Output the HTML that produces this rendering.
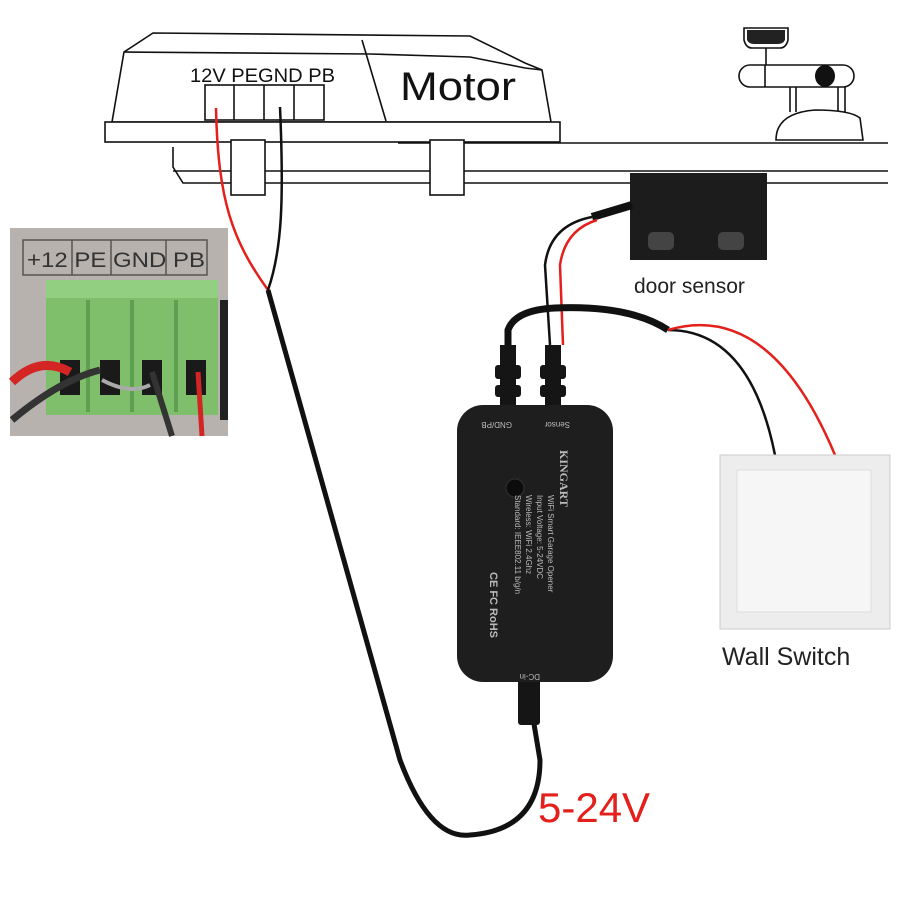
<!DOCTYPE html>
<html><head><style>body{margin:0;background:#fff}svg{display:block}</style></head>
<body>
<svg width="900" height="900" viewBox="0 0 900 900" xmlns="http://www.w3.org/2000/svg" font-family="Liberation Sans, sans-serif">
<rect width="900" height="900" fill="#fff"/>
<!-- motor housing -->
<g fill="none" stroke="#111" stroke-width="1.6">
<path d="M124 52 L153 33 L470 36 L525 63 L542 70 L551 122 L112 122 Z" fill="#fff"/>
<path d="M124 52 L370 54 L470 57 L525 68 L542 70"/>
<path d="M362 40 L386 121"/>
<rect x="105" y="122" width="455" height="20" fill="#fff"/>
<path d="M398 143 L888 143"/>
<path d="M173 147 L173 167 L183 183 L888 183"/>
<path d="M173 171 L888 171"/>
<rect x="231" y="140" width="34" height="55" fill="#fff"/>
<rect x="430" y="140" width="34" height="55" fill="#fff"/>
<rect x="205" y="85" width="119" height="35" fill="#fff"/>
<path d="M234 85V120M264 85V120M294 85V120"/>
<!-- right figure -->
<path d="M744 28H788V40Q786 48 780 48H752Q746 48 744 40Z" fill="#fff"/>
<path d="M766 48V65"/>
<rect x="739" y="65" width="115" height="22" rx="11" fill="#fff"/>
<path d="M765 65V87M790 87V112M796 87V112M838 87V112M845 87V112"/>
<path d="M776 140Q776 113 815 110Q850 110 860 118L863 140 Z" fill="#fff"/>
</g>
<path d="M747 30H785V40Q783 44 778 44H754Q749 44 747 40Z" fill="#222"/>
<ellipse cx="825" cy="76" rx="10" ry="11" fill="#111"/>
<text x="190" y="82" font-size="19" fill="#111" textLength="145" lengthAdjust="spacingAndGlyphs">12V PEGND PB</text>
<text x="400" y="100" font-size="40" fill="#111" textLength="116" lengthAdjust="spacingAndGlyphs">Motor</text>
<!-- wires from motor -->
<path d="M216 108 C218 200 232 240 268 290" stroke="#e3201b" stroke-width="2.5" fill="none"/>
<path d="M280 107 C284 200 282 250 268 290" stroke="#111" stroke-width="2.5" fill="none"/>
<path d="M268 290 L400 760 Q430 840 470 835 Q540 830 540 760 L530 700" stroke="#111" stroke-width="5" fill="none"/>
<!-- photo inset -->
<rect x="10" y="228" width="218" height="208" fill="#b7b2ae"/>
<rect x="23" y="240" width="184" height="35" fill="none" stroke="#555" stroke-width="1.5"/>
<path d="M72 240V275M111 240V275M166 240V275" stroke="#555" stroke-width="1.5"/>
<text x="27" y="267" font-size="21" fill="#333" textLength="178" lengthAdjust="spacingAndGlyphs">+12  PE  GND  PB</text>
<rect x="46" y="280" width="172" height="135" fill="#7fbf6c"/>
<rect x="46" y="280" width="172" height="18" fill="#93cf80"/>
<g fill="#5f9f52"><rect x="86" y="300" width="4" height="112"/><rect x="130" y="300" width="4" height="112"/><rect x="174" y="300" width="4" height="112"/></g>
<g fill="#1a1a1a"><rect x="60" y="360" width="20" height="35"/><rect x="100" y="360" width="20" height="35"/><rect x="142" y="360" width="20" height="35"/><rect x="186" y="360" width="20" height="35"/></g>
<path d="M12 382 Q40 355 70 372" stroke="#d42525" stroke-width="9" fill="none"/>
<path d="M12 420 Q60 380 100 370" stroke="#333" stroke-width="7" fill="none"/>
<path d="M152 372 L172 436" stroke="#333" stroke-width="6" fill="none"/>
<path d="M198 372 L202 436" stroke="#d42525" stroke-width="5" fill="none"/>
<path d="M102 380 Q130 395 150 385" stroke="#aaa" stroke-width="4" fill="none"/>
<rect x="220" y="300" width="8" height="120" fill="#222"/>
<!-- door sensor -->
<rect x="630" y="173" width="137" height="87" fill="#1c1c1c"/>
<rect x="648" y="232" width="26" height="18" rx="5" fill="#444"/>
<rect x="718" y="232" width="26" height="18" rx="5" fill="#444"/>
<path d="M632 205 L592 217" stroke="#111" stroke-width="8"/>
<path d="M592 217 Q550 225 545 265 L550 345" stroke="#111" stroke-width="2.5" fill="none"/>
<path d="M597 220 Q565 230 560 265 L563 345" stroke="#e3201b" stroke-width="2.5" fill="none"/>
<text x="634" y="293" font-size="21" fill="#222">door sensor</text>
<!-- cables to wall switch -->
<path d="M508 370 L508 330 Q515 310 555 308 Q630 305 668 330" stroke="#111" stroke-width="7" fill="none"/>
<path d="M668 330 Q750 330 775 455" stroke="#111" stroke-width="2.5" fill="none"/>
<path d="M668 330 Q770 300 835 455" stroke="#e3201b" stroke-width="2.5" fill="none"/>
<!-- connectors -->
<g fill="#151515">
<rect x="500" y="345" width="16" height="60"/><rect x="495" y="365" width="26" height="14" rx="3"/><rect x="495" y="385" width="26" height="12" rx="3"/>
<rect x="545" y="345" width="16" height="60"/><rect x="540" y="365" width="26" height="14" rx="3"/><rect x="540" y="385" width="26" height="12" rx="3"/>
<rect x="518" y="675" width="22" height="50" rx="3"/>
</g>
<!-- device -->
<rect x="457" y="405" width="156" height="277" rx="26" fill="#1e1e1e"/>
<circle cx="515" cy="488" r="9" fill="#0c0c0c" stroke="#333"/>
<g fill="#bbb" font-size="8">
<text x="478" y="418" transform="rotate(180 495 420)">GND/PB</text>
<text x="540" y="418" transform="rotate(180 555 420)">Sensor</text>
<text x="510" y="670" transform="rotate(180 525 672)">DC-in</text>
<text transform="translate(560,450) rotate(90)" font-size="12" font-family="Liberation Serif, serif" font-weight="bold">KINGART</text>
<text transform="translate(548,495) rotate(90)">WiFi Smart Garage Opener</text>
<text transform="translate(537,495) rotate(90)">Input Voltage: 5-24VDC</text>
<text transform="translate(526,495) rotate(90)">Wireless: WiFi 2.4Ghz</text>
<text transform="translate(515,495) rotate(90)">Standard: IEEE802.11 b/g/n</text>
<text transform="translate(490,572) rotate(90)" font-size="11" font-weight="bold">CE FC RoHS</text>
</g>
<!-- wall switch -->
<rect x="720" y="455" width="170" height="174" fill="#ededed" stroke="#ccc"/>
<rect x="737" y="470" width="134" height="142" fill="#f6f6f6" stroke="#ddd"/>
<text x="722" y="665" font-size="25" fill="#222">Wall Switch</text>
<text x="538" y="822" font-size="42" fill="#e3201b">5-24V</text>
</svg>
</body></html>
